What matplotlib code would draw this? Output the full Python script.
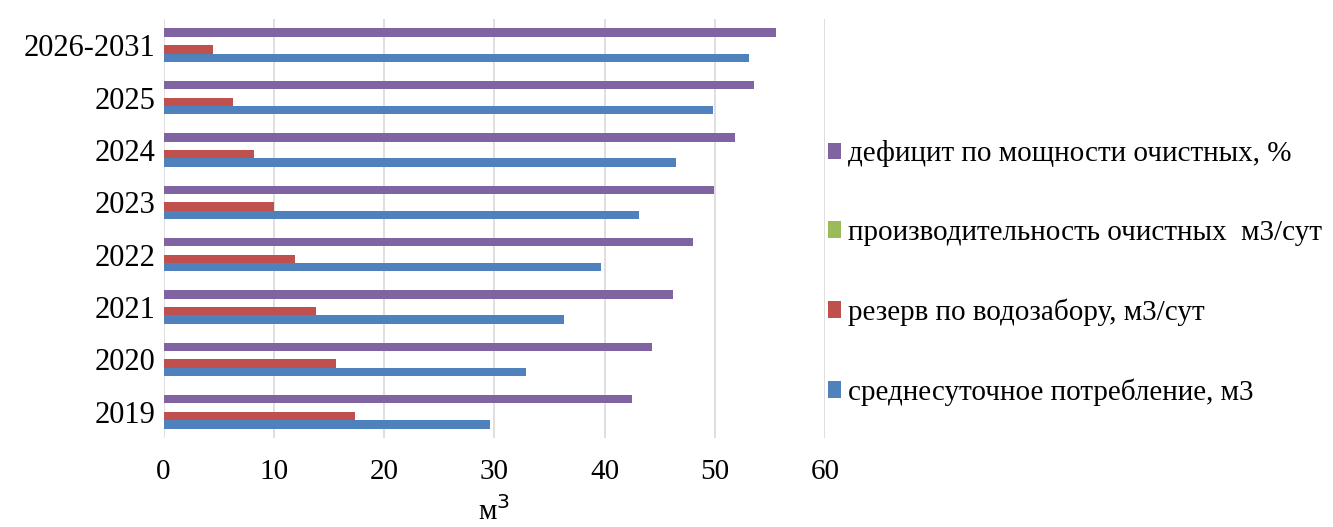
import matplotlib
matplotlib.use('Agg')
import matplotlib.pyplot as plt
import numpy as np

plt.rcParams['font.family'] = ['Liberation Serif', 'DejaVu Serif']

years = ['2019', '2020', '2021', '2022', '2023', '2024', '2025', '2026-2031']
# среднесуточное потребление, м3
consumption = [29.6, 32.9, 36.3, 39.7, 43.1, 46.5, 49.8, 53.1]
# резерв по водозабору, м3/сут
reserve = [17.4, 15.6, 13.8, 11.9, 10.0, 8.2, 6.3, 4.5]
# производительность очистных м3/сут (пустой ряд)
capacity = [0, 0, 0, 0, 0, 0, 0, 0]
# дефицит по мощности очистных, %
deficit = [42.5, 44.3, 46.2, 48.0, 49.9, 51.8, 53.6, 55.6]

labels = ['среднесуточное потребление, м3',
          'резерв по водозабору, м3/сут',
          'производительность очистных  м3/сут',
          'дефицит по мощности очистных, %']
colors = ['#4F81BD', '#C0504D', '#9BBB59', '#8064A2']

fig = plt.figure(figsize=(13.33, 5.27), dpi=100)
ax = fig.add_axes([0.1227, 0.169, 0.4962, 0.795])

y = np.arange(len(years))
h = 0.16
series = [consumption, reserve, capacity, deficit]
handles = []
for i, (vals, lab, col) in enumerate(zip(series, labels, colors)):
    b = ax.barh(y + (i - 1.5) * h, vals, height=h, color=col, label=lab)
    handles.append(b)

ax.set_xlim(0, 60)
ax.set_ylim(-0.5, len(years) - 0.5)
ax.set_xticks(range(0, 61, 10))
ax.set_yticks(y)
ax.set_yticklabels(years)
ax.tick_params(axis='both', length=0)
ax.tick_params(axis='x', pad=15, labelsize=21)
ax.tick_params(axis='y', pad=6, labelsize=22)
ax.grid(axis='x', color='#D9D9D9', linewidth=1.2)
ax.set_axisbelow(True)
for s in ax.spines.values():
    s.set_visible(False)
ax.set_xlabel('м$^3$', fontsize=21, labelpad=8)

fig.legend(handles[::-1], labels[::-1], loc='center left',
           bbox_to_anchor=(0.6015, 0.482), frameon=False, fontsize=21,
           handlelength=0.45, handleheight=0.5, handletextpad=0.25,
           labelspacing=1.8)

fig.savefig('out.png', dpi=100)
